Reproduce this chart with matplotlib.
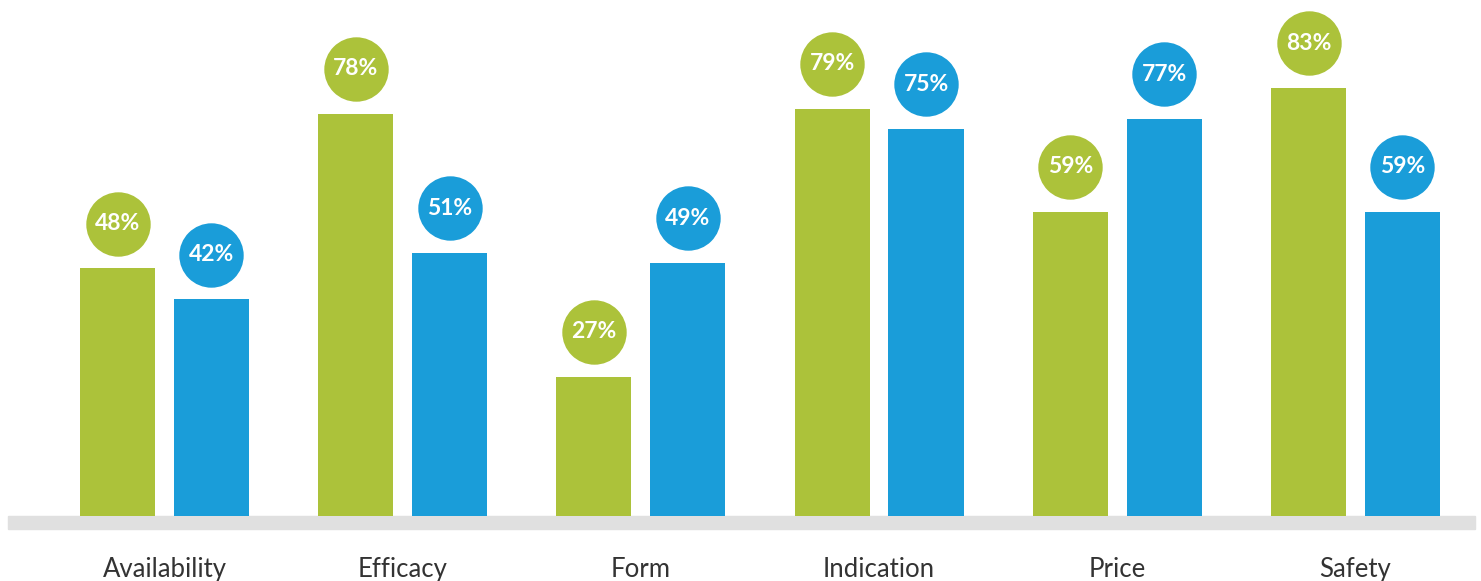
import matplotlib.pyplot as plt
import numpy as np

categories = ['Availability', 'Efficacy', 'Form', 'Indication', 'Price', 'Safety']
green_vals = [48, 78, 27, 79, 59, 83]
blue_vals = [42, 51, 49, 75, 77, 59]

green = '#acc23a'
blue = '#1a9dd9'

plt.rcParams['font.family'] = ['Lato', 'DejaVu Sans']

fig = plt.figure(figsize=(14.81, 5.81), dpi=100)
ax = fig.add_axes([0, 0, 1, 1])

x = np.arange(len(categories))
w = 0.315
off = 0.197

ax.bar(x - off, green_vals, width=w, color=green, zorder=2)
ax.bar(x + off, blue_vals, width=w, color=blue, zorder=2)

# circles with value labels above each bar
lift = 8.7
for xs, vals, col in [(x - off, green_vals, green), (x + off, blue_vals, blue)]:
    ys = np.array(vals) + lift
    ax.scatter(xs, ys, s=2150, color=col, zorder=3, linewidths=0)
    for xi, yi, v in zip(xs, ys, vals):
        ax.text(xi, yi, f'{v}%', ha='center', va='center', color='white',
                fontsize=16.5, fontweight='bold', zorder=4)

# gray baseline band
ax.axhspan(-2.52, 0, xmin=8 / 1481, xmax=1475 / 1481, color='#e0e0e0', zorder=1)

for xi, c in zip(x, categories):
    ax.text(xi, -10.3, c, ha='center', va='center', fontsize=18.5, color='#333333')

ax.set_xlim(-0.6906, 5.527)
ax.set_ylim(-12.6, 100.06)
ax.axis('off')

fig.savefig('out.png', dpi=100)
